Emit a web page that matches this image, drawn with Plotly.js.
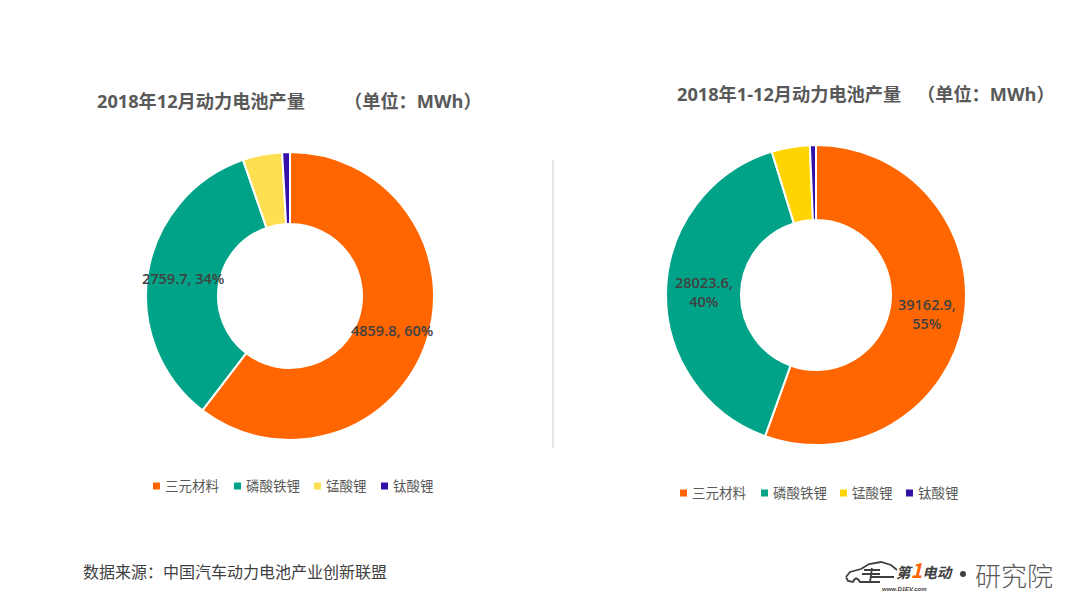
<!DOCTYPE html>
<html><head><meta charset="utf-8">
<script src="https://cdn.plot.ly/plotly-3.0.1.min.js"></script>
<style>html,body{margin:0;padding:0;background:#fff}</style></head>
<body><div id="chart" style="width:1080px;height:608px"></div>
<script>
const W = 1080, H = 608;
const categories = ['三元材料','磷酸铁锂','锰酸锂','钛酸锂'];
const decValues = [4859.8, 2759.7, 355, 70];
const yearValues = [39162.9, 28023.6, 2900, 460];
const decColors = ['#FF6600','#00A387','#FFDF52','#3311A8'];
const yearColors = ['#FF6600','#00A387','#FFD400','#3311A8'];
const decLabels = ['4859.8, 60%','2759.7, 34%'];
const yearLabels = ['39162.9,<br>55%','28023.6,<br>40%'];
const unitText = '\uFF08单位\uFF1AMWh\uFF09';
const sourceText = '数据来源\uFF1A中国汽车动力电池产业创新联盟';
const CJK = '"Noto Sans CJK SC","Open Sans",sans-serif';
const LAB = '"Open Sans","Noto Sans CJK SC",sans-serif';
const px = x => x / W, py = y => 1 - y / H;

function pie(values, colors, cx, cy, R) {
  return {type:'pie', values, labels:categories, sort:false, direction:'clockwise', rotation:0,
    hole:0.5, textinfo:'none', showlegend:false,
    marker:{colors, line:{color:'#fff', width:2}},
    domain:{x:[px(cx-R),px(cx+R)], y:[py(cy+R),py(cy-R)]}};
}
function note(text,x,y,size,color,opts){
  return Object.assign({text,x:px(x),y:py(y),xref:'paper',yref:'paper',showarrow:false,
    xanchor:'left',yanchor:'middle',font:{family:CJK,size,color}},opts||{});
}
function sliceLabels(values, labels, cx, cy, R){
  const total = values.reduce((a,b)=>a+b,0); let acc = 0; const out = [];
  labels.forEach((t,i)=>{
    const a = (acc + values[i]/2)/total*2*Math.PI; acc += values[i];
    const r = R*0.75;
    out.push(note(t, cx+r*Math.sin(a), cy-r*Math.cos(a), 14.5, '#404040',
      {xanchor:'center', font:{family:LAB,size:14.5,color:'#404040',weight:600}}));
  });
  return out;
}
function legend(colors, xs, y){
  const shapes=[], notes=[];
  categories.forEach((c,i)=>{
    shapes.push({type:'rect',xref:'paper',yref:'paper',x0:px(xs[i]),x1:px(xs[i]+7),y0:py(y+3.5),y1:py(y-3.5),
      fillcolor:colors[i],line:{width:0}});
    notes.push(note(c,xs[i]+10,y-1,13.5,'#595959'));
  });
  return {shapes,notes};
}
const leg1 = legend(decColors,[153,234,314,381],486);
const leg2 = legend(yearColors,[680,761,840,906],493);
const titleFont = {family:LAB,size:18.2,color:'#595959',weight:700};
const annotations = [
  note('2018年12月动力电池产量',95,100.5,18,'#595959',{font:titleFont}),
  note(unitText,342,100.5,18,'#595959',{font:titleFont}),
  note('2018年1-12月动力电池产量',675,93.5,18,'#595959',{font:titleFont}),
  note(unitText,915,93.5,18,'#595959',{font:titleFont}),
  note(sourceText,81,571,16,'#404040'),
  ...sliceLabels(decValues,decLabels,290,296,144),
  ...sliceLabels(yearValues,yearLabels,816,295,150),
  ...leg1.notes, ...leg2.notes,
  note('第<span style="color:#FF6600;font-size:20px">1</span>电动',894,569,14.5,'#404040',
    {font:{family:CJK,size:14.5,color:'#404040',weight:700,style:'italic'}}),
  note('www.D1EV.com',880,589,6,'#404040',{font:{family:'"Liberation Sans"',size:6,color:'#404040',weight:700,style:'italic'}}),
  note('研究院',973,574,26,'#595959',{font:{family:CJK,size:26,color:'#595959',weight:300}})
];
const car = 'M846,577 L850,572 L861,569 L869,564 L881,562 L891,565 L897,570 M846,577 L848,581 L853,582 Q856,575 860,582 L880,582 M870,577 L894,577 M864,570 L880,570 M862,574 L880,574 M872,568 L870,582';
const shapes = [
  {type:'line',xref:'paper',yref:'paper',x0:px(553),x1:px(553),y0:py(160),y1:py(448),line:{color:'#C8C8C8',width:1}},
  ...leg1.shapes, ...leg2.shapes,
  {type:'path',xref:'paper',yref:'paper',path:car.replace(/(\d+),(\d+)/g,(m,a,b)=>px(+a)+','+py(+b)),line:{color:'#404040',width:1.8}},
  {type:'circle',xref:'paper',yref:'paper',x0:px(960),x1:px(966),y0:py(577),y1:py(571),fillcolor:'#404040',line:{width:0}}
];
Plotly.newPlot('chart',[pie(decValues,decColors,290,296,144),pie(yearValues,yearColors,816,295,150)],
  {width:W,height:H,margin:{l:0,r:0,t:0,b:0},paper_bgcolor:'#fff',plot_bgcolor:'#fff',showlegend:false,annotations,shapes},
  {displayModeBar:false,staticPlot:true});
</script></body></html>
